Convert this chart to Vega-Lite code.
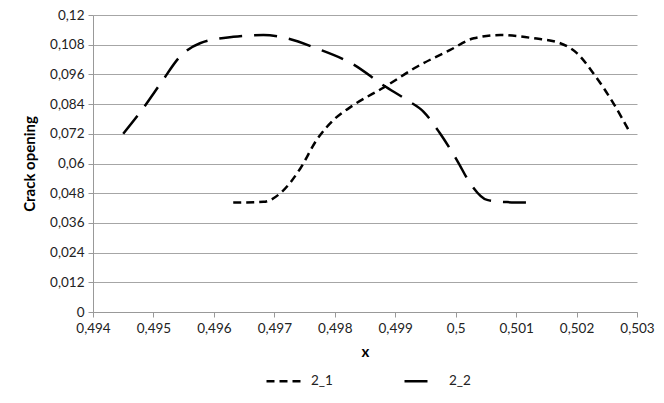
{
  "$schema": "https://vega.github.io/schema/vega-lite/v6.json",
  "width": 544,
  "height": 297,
  "autosize": "none",
  "padding": {"left": 93, "top": 15, "right": 27, "bottom": 91},
  "background": "white",
  "config": {
    "locale": {"number": {"decimal": ",", "thousands": ".", "grouping": [3], "currency": ["", "€"]}},
    "view": {"stroke": null},
    "font": "Lato"
  },
  "data": {
    "values": [
      {"series": "2_2", "x": 0.4945, "y": 0.072},
      {"series": "2_2", "x": 0.49483, "y": 0.0823},
      {"series": "2_2", "x": 0.49514, "y": 0.0931},
      {"series": "2_2", "x": 0.49544, "y": 0.1032},
      {"series": "2_2", "x": 0.49577, "y": 0.1086},
      {"series": "2_2", "x": 0.49632, "y": 0.1112},
      {"series": "2_2", "x": 0.49682, "y": 0.1119},
      {"series": "2_2", "x": 0.49721, "y": 0.1106},
      {"series": "2_2", "x": 0.4977, "y": 0.1065},
      {"series": "2_2", "x": 0.49831, "y": 0.1},
      {"series": "2_2", "x": 0.49881, "y": 0.0915},
      {"series": "2_2", "x": 0.49919, "y": 0.0857},
      {"series": "2_2", "x": 0.49947, "y": 0.0809},
      {"series": "2_2", "x": 0.49974, "y": 0.0722},
      {"series": "2_2", "x": 0.50002, "y": 0.0614},
      {"series": "2_2", "x": 0.50024, "y": 0.052},
      {"series": "2_2", "x": 0.50052, "y": 0.0453},
      {"series": "2_2", "x": 0.50085, "y": 0.0444},
      {"series": "2_2", "x": 0.50121, "y": 0.0442},
      {"series": "2_1", "x": 0.49632, "y": 0.0442},
      {"series": "2_1", "x": 0.49682, "y": 0.0445},
      {"series": "2_1", "x": 0.4971, "y": 0.048},
      {"series": "2_1", "x": 0.49743, "y": 0.058},
      {"series": "2_1", "x": 0.4977, "y": 0.0695},
      {"series": "2_1", "x": 0.49798, "y": 0.0776},
      {"series": "2_1", "x": 0.49831, "y": 0.0836},
      {"series": "2_1", "x": 0.49881, "y": 0.0907},
      {"series": "2_1", "x": 0.49936, "y": 0.0991},
      {"series": "2_1", "x": 0.49991, "y": 0.1059},
      {"series": "2_1", "x": 0.5003, "y": 0.1106},
      {"series": "2_1", "x": 0.50074, "y": 0.1119},
      {"series": "2_1", "x": 0.50129, "y": 0.1106},
      {"series": "2_1", "x": 0.50173, "y": 0.1086},
      {"series": "2_1", "x": 0.50201, "y": 0.1045},
      {"series": "2_1", "x": 0.50228, "y": 0.0964},
      {"series": "2_1", "x": 0.50261, "y": 0.0843},
      {"series": "2_1", "x": 0.50289, "y": 0.0722}
    ]
  },
  "mark": {"type": "line", "interpolate": "monotone", "color": "black", "strokeWidth": 2.5},
  "encoding": {
    "x": {
      "field": "x", "type": "quantitative",
      "scale": {"domain": [0.494, 0.503], "nice": false, "zero": false},
      "axis": {
        "title": "x", "titleFontWeight": "bold", "titleFontSize": 15, "titleColor": "black", "titlePadding": 10,
        "values": [0.494, 0.495, 0.496, 0.497, 0.498, 0.499, 0.5, 0.501, 0.502, 0.503],
        "format": ".3~g", "labelFontSize": 13.5, "labelColor": "#222", "labelPadding": 4,
        "domainColor": "#999", "tickColor": "#999", "tickSize": 5, "grid": false, "labelFlush": false
      }
    },
    "y": {
      "field": "y", "type": "quantitative",
      "scale": {"domain": [0, 0.12], "nice": false},
      "axis": {
        "title": "Crack opening", "titleFontWeight": "bold", "titleFontSize": 15, "titleColor": "black", "titlePadding": 12,
        "values": [0, 0.012, 0.024, 0.036, 0.048, 0.06, 0.072, 0.084, 0.096, 0.108, 0.12],
        "format": ".3~g", "labelFontSize": 13.5, "labelColor": "#222", "labelPadding": 4,
        "domainColor": "#999", "tickColor": "#999", "tickSize": 5,
        "grid": true, "gridColor": "#a6a6a6", "gridWidth": 1
      }
    },
    "strokeDash": {
      "field": "series", "type": "nominal",
      "scale": {"domain": ["2_1", "2_2"], "range": [[8, 5], [23, 12]]},
      "legend": {
        "title": null, "orient": "none", "direction": "horizontal",
        "legendX": 172, "legendY": 347,
        "symbolType": "stroke", "symbolSize": 1225, "symbolStrokeWidth": 2.5, "symbolStrokeColor": "black",
        "labelFontSize": 13.5, "labelColor": "#222", "labelOffset": 8, "columnPadding": 66
      }
    },
    "detail": {"field": "series"}
  }
}
